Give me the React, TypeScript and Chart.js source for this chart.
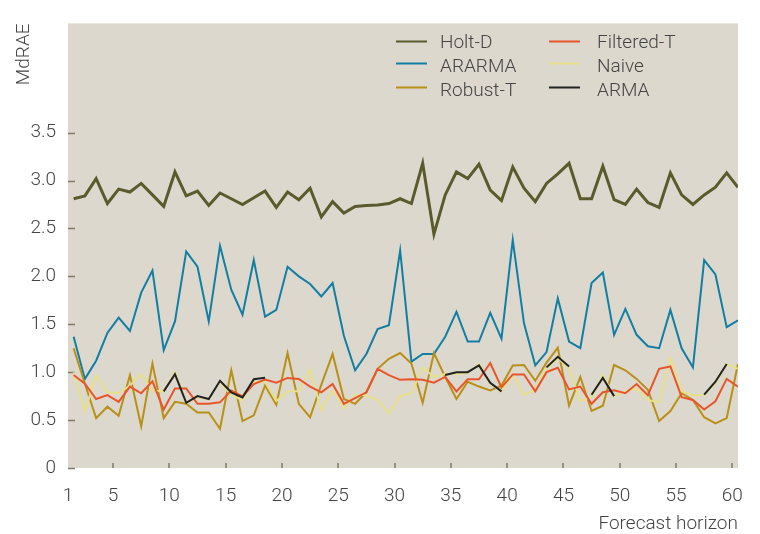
import React, { useEffect, useRef } from 'react';
import { Chart, registerables } from 'chart.js';

Chart.register(...registerables);

const horizons = [
  1, 2, 3, 4, 5, 6, 7, 8, 9, 10, 11, 12, 13, 14, 15, 16, 17, 18, 19, 20,
  21, 22, 23, 24, 25, 26, 27, 28, 29, 30, 31, 32, 33, 34, 35, 36, 37, 38, 39, 40,
  41, 42, 43, 44, 45, 46, 47, 48, 49, 50, 51, 52, 53, 54, 55, 56, 57, 58, 59, 60,
];

const xTickLabels = [1, 5, 10, 15, 20, 25, 30, 35, 40, 45, 50, 55, 60];
const yTickValues = [0, 0.5, 1, 1.5, 2, 2.5, 3, 3.5];

const holtD = [
  2.81, 2.84, 3.02, 2.76, 2.91, 2.88, 2.97, 2.85, 2.73, 3.09,
  2.84, 2.89, 2.74, 2.87, 2.81, 2.75, 2.82, 2.89, 2.72, 2.88,
  2.80, 2.92, 2.62, 2.78, 2.66, 2.73, 2.74, 2.745, 2.76, 2.81,
  2.76, 3.18, 2.44, 2.85, 3.09, 3.02, 3.17, 2.90, 2.79, 3.14,
  2.92, 2.78, 2.97, 3.07, 3.18, 2.81, 2.81, 3.15, 2.80, 2.75,
  2.91, 2.77, 2.72, 3.08, 2.85, 2.75, 2.85, 2.93, 3.08, 2.93,
];

const ararma = [
  1.37, 0.93, 1.12, 1.41, 1.57, 1.43, 1.83, 2.06, 1.23, 1.53,
  2.26, 2.10, 1.53, 2.32, 1.86, 1.60, 2.17, 1.58, 1.65, 2.10,
  2.00, 1.92, 1.79, 1.93, 1.38, 1.02, 1.19, 1.45, 1.49, 2.27,
  1.11, 1.19, 1.19, 1.37, 1.63, 1.32, 1.32, 1.62, 1.35, 2.38,
  1.51, 1.07, 1.21, 1.77, 1.32, 1.25, 1.93, 2.04, 1.39, 1.66,
  1.39, 1.27, 1.25, 1.65, 1.25, 1.05, 2.17, 2.02, 1.47, 1.54,
];

const robustT = [
  1.25, 0.88, 0.52, 0.64, 0.545, 0.97, 0.435, 1.09, 0.52, 0.69,
  0.67, 0.58, 0.58, 0.41, 1.02, 0.49, 0.55, 0.86, 0.66, 1.20,
  0.67, 0.53, 0.87, 1.19, 0.72, 0.67, 0.79, 1.035, 1.14, 1.20,
  1.09, 0.68, 1.20, 0.95, 0.72, 0.90, 0.85, 0.81, 0.86, 1.07,
  1.075, 0.91, 1.10, 1.255, 0.65, 0.95, 0.595, 0.65, 1.075, 1.02,
  0.93, 0.815, 0.49, 0.595, 0.78, 0.71, 0.53, 0.466, 0.52, 1.085,
];

const filteredT = [
  0.97, 0.88, 0.72, 0.76, 0.69, 0.85, 0.78, 0.905, 0.61, 0.83,
  0.83, 0.67, 0.67, 0.685, 0.81, 0.747, 0.876, 0.923, 0.89, 0.94,
  0.93, 0.85, 0.79, 0.876, 0.67, 0.73, 0.79, 1.035, 0.97, 0.92,
  0.925, 0.92, 0.89, 0.95, 0.80, 0.925, 0.925, 1.096, 0.84, 0.977,
  0.977, 0.80, 1.0, 1.045, 0.82, 0.85, 0.67, 0.79, 0.81, 0.78,
  0.876, 0.76, 1.035, 1.06, 0.74, 0.71, 0.61, 0.696, 0.93, 0.85,
];

const naive = [
  1.0, 0.595, 0.96, 0.79, 0.78, 0.86, 0.98, 0.81, 0.80, 1.0,
  0.68, 0.74, 0.72, 0.90, 0.76, 0.71, 0.90, 0.90, 0.70, 0.80,
  0.80, 1.03, 0.60, 0.815, 0.62, 0.765, 0.76, 0.71, 0.567, 0.75,
  0.78, 1.05, 0.95, 0.98, 0.98, 0.99, 1.085, 0.88, 0.80, 0.97,
  0.765, 0.815, 1.035, 1.144, 1.05, 0.70, 0.74, 0.97, 0.75, 0.80,
  0.83, 0.71, 0.687, 1.15, 0.80, 0.76, 0.765, 0.88, 1.085, 1.035,
];

const arma = [
  null, null, null, null, null, null, null, null, 0.80, 0.98,
  0.68, 0.75, 0.72, 0.91, 0.79, 0.737, 0.926, 0.943, null, null,
  null, null, null, null, null, null, null, null, null, null,
  null, null, null, 0.97, 1.0, 1.0, 1.07, 0.89, 0.80, null,
  null, null, 1.05, 1.16, 1.06, null, 0.765, 0.94, 0.75, null,
  null, null, null, null, null, null, 0.765, 0.90, 1.085, null,
];

const seriesNames = ['Holt-D', 'ARARMA', 'Robust-T', 'Filtered-T', 'Naive', 'ARMA'];
const seriesColors = ['#5b5a2d', '#127ea3', '#b89018', '#e8552a', '#e7e08a', '#222222'];
const seriesValues = [holtD, ararma, robustT, filteredT, naive, arma];
const seriesWidths = [3, 2, 2, 2, 2, 2];
const seriesOrder = [6, 5, 4, 2, 3, 1];

const FONT = 'Roboto, "Noto Sans", "DejaVu Sans", sans-serif';
const TEXT = '#444444';

const bgPlugin = {
  id: 'plotBg',
  beforeDraw(chart: any) {
    const { ctx, chartArea } = chart;
    ctx.save();
    ctx.fillStyle = '#dcd8ce';
    ctx.fillRect(chartArea.left, chartArea.top, chartArea.right - chartArea.left, chartArea.bottom - chartArea.top);
    ctx.restore();
  },
};

const tickMarkPlugin = {
  id: 'innerTicks',
  beforeDatasetsDraw(chart: any) {
    const { ctx, chartArea, scales } = chart;
    ctx.save();
    ctx.strokeStyle = '#7d7b66';
    ctx.lineWidth = 1.5;
    ctx.beginPath();
    yTickValues.forEach((v) => {
      const y = Math.round(scales.y.getPixelForValue(v)) + 0.5;
      ctx.moveTo(chartArea.left, y);
      ctx.lineTo(chartArea.left + 7, y);
    });
    xTickLabels.forEach((l) => {
      if (l === 1) return;
      const x = Math.round(scales.x.getPixelForValue(l - 0.5));
      ctx.moveTo(x, chartArea.bottom);
      ctx.lineTo(x, chartArea.bottom - 5);
    });
    ctx.stroke();
    ctx.restore();
  },
};

const legendPlugin = {
  id: 'innerLegend',
  afterDraw(chart: any) {
    const { ctx } = chart;
    const cols = [
      { lineX: 396, textX: 440 },
      { lineX: 549, textX: 597 },
    ];
    const rowsBase = [48, 72, 96];
    const rowsLine = [41.5, 63.5, 87.5];
    ctx.save();
    ctx.font = `300 19px ${FONT}`;
    ctx.textBaseline = 'alphabetic';
    ctx.textAlign = 'left';
    seriesNames.forEach((name, i) => {
      const c = cols[Math.floor(i / 3)];
      const r = i % 3;
      ctx.strokeStyle = seriesColors[i];
      ctx.lineWidth = 2;
      ctx.beginPath();
      ctx.moveTo(c.lineX, rowsLine[r]);
      ctx.lineTo(c.lineX + 31, rowsLine[r]);
      ctx.stroke();
      ctx.fillStyle = TEXT;
      ctx.fillText(name, c.textX, rowsBase[r]);
    });
    ctx.restore();
  },
};

export default function App() {
  const ref = useRef<HTMLCanvasElement | null>(null);

  useEffect(() => {
    document.body.style.margin = '0';
    const canvas = ref.current;
    if (!canvas) return;
    const datasets = seriesNames.map((name, i) => ({
      label: name,
      data: horizons.map((h, j) => ({ x: h, y: seriesValues[i][j] })),
      borderColor: seriesColors[i],
      backgroundColor: seriesColors[i],
      borderWidth: seriesWidths[i],
      pointRadius: 0,
      tension: 0,
      spanGaps: false,
      fill: false,
      order: seriesOrder[i],
      borderJoinStyle: 'miter' as const,
    }));

    const chart = new Chart(canvas, {
      type: 'line',
      data: { datasets },
      options: {
        animation: false,
        responsive: false,
        maintainAspectRatio: false,
        layout: { padding: { top: 11, right: 17, left: 0, bottom: 0 } },
        plugins: {
          legend: { display: false },
          tooltip: { enabled: false },
        },
        scales: {
          x: {
            type: 'linear',
            min: 0.5,
            max: 60,
            grid: { display: false, drawTicks: false },
            border: { display: false },
            afterBuildTicks: (scale: any) => {
              scale.ticks = xTickLabels.map((l) => ({ value: l - 0.5 }));
            },
            afterFit: (scale: any) => {
              scale.height = 66;
            },
            ticks: {
              autoSkip: false,
              maxRotation: 0,
              padding: 17,
              color: TEXT,
              font: { family: FONT, size: 19, weight: '300' as any },
              callback: (value: any) => String(Math.round(Number(value) + 0.5)),
            },
            title: {
              display: true,
              text: 'Forecast horizon',
              align: 'end',
              color: TEXT,
              padding: { top: 0, bottom: 0 },
              font: { family: FONT, size: 19, weight: '300' as any, lineHeight: 1 },
            },
          },
          y: {
            type: 'linear',
            min: 0,
            max: 4.64,
            grid: { display: false, drawTicks: false },
            border: { display: false },
            afterBuildTicks: (scale: any) => {
              scale.ticks = yTickValues.map((v) => ({ value: v }));
            },
            afterFit: (scale: any) => {
              scale.width = 68;
            },
            ticks: {
              padding: 12,
              color: TEXT,
              font: { family: FONT, size: 19, weight: '300' as any },
              callback: (value: any) => (Number(value) === 0 ? '0' : Number(value).toFixed(1)),
            },
            title: {
              display: true,
              text: 'MdRAE',
              align: 'end',
              color: TEXT,
              padding: { top: 15, bottom: 0 },
              font: { family: FONT, size: 19, weight: '300' as any, lineHeight: 1 },
            },
          },
        },
      },
      plugins: [bgPlugin, tickMarkPlugin, legendPlugin],
    });
    return () => chart.destroy();
  }, []);

  return (
    <div style={{ width: 760, height: 534, position: 'relative' }}>
      <canvas ref={ref} width={760} height={534} style={{ display: 'block', width: 760, height: 534 }} />
    </div>
  );
}
